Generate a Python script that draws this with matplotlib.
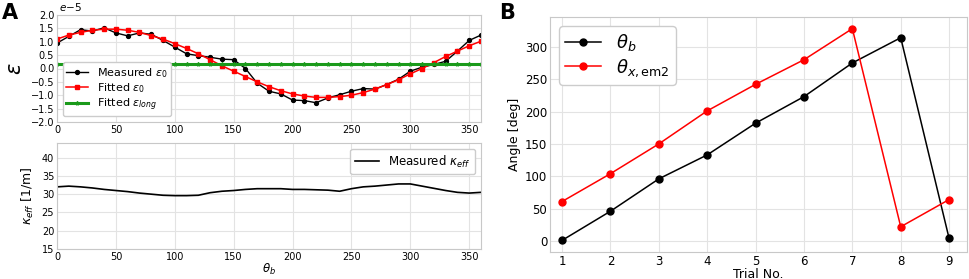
import numpy as np
import matplotlib.pyplot as plt

# dados do painel A (theta de 0 a 360, passo 10)
theta = np.arange(0, 361, 10)
eps_medido = [0.95, 1.2, 1.45, 1.4, 1.52, 1.33, 1.22, 1.33, 1.28, 1.05, 0.8, 0.55, 0.48, 0.42,
              0.35, 0.33, 0.0, -0.55, -0.85, -0.95, -1.18, -1.2, -1.28, -1.1, -0.98, -0.85,
              -0.75, -0.77, -0.6, -0.4, -0.1, 0.05, 0.15, 0.27, 0.65, 1.05, 1.25]
eps_ajustado = [1.1, 1.25, 1.35, 1.43, 1.47, 1.47, 1.43, 1.35, 1.23, 1.1, 0.93, 0.75, 0.55, 0.33,
                0.1, -0.1, -0.3, -0.5, -0.68, -0.83, -0.95, -1.03, -1.08, -1.08, -1.05, -1.0,
                -0.9, -0.77, -0.6, -0.42, -0.2, 0.0, 0.22, 0.45, 0.65, 0.85, 1.02]
eps_long = [0.18] * len(theta)
kappa = [32.0, 32.2, 32.0, 31.7, 31.3, 31.0, 30.7, 30.3, 30.0, 29.7, 29.6, 29.6, 29.7, 30.4,
         30.8, 31.0, 31.3, 31.5, 31.5, 31.5, 31.3, 31.3, 31.2, 31.1, 30.8, 31.5, 32.0, 32.2,
         32.5, 32.8, 32.8, 32.2, 31.6, 31.0, 30.5, 30.3, 30.5]

# dados do painel B
trial = [1, 2, 3, 4, 5, 6, 7, 8, 9]
theta_b = [1, 46, 96, 133, 182, 223, 275, 314, 4]
theta_x = [61, 104, 150, 201, 242, 280, 328, 22, 64]

fig = plt.figure(figsize=(9.69, 2.79), dpi=100)
axA1 = fig.add_axes([57/969, 1-122/279, 424/969, 107/279])
axA2 = fig.add_axes([57/969, 1-249/279, 424/969, 106/279])
axB = fig.add_axes([550/969, 1-252/279, 417/969, 235/279])

def estilo(ax, fs):
    ax.grid(True, color='#e3e3e3', linewidth=0.8)
    ax.set_axisbelow(True)
    for s in ax.spines.values():
        s.set_color('#c8c8c8')
    ax.tick_params(length=0, labelsize=fs, pad=2)

# painel A topo
axA1.plot(theta, eps_medido, '-o', color='black', ms=2.8, lw=1, label=r'Measured $\epsilon_0$')
axA1.plot(theta, eps_ajustado, '-s', color='red', ms=2.8, lw=1.1, label=r'Fitted $\epsilon_0$')
axA1.plot(theta, eps_long, '-*', color='#1a9a1a', ms=2.8, lw=2.2, label=r'Fitted $\epsilon_{long}$')
axA1.set_xlim(0, 360)
axA1.set_ylim(-2, 2)
axA1.set_yticks(np.arange(-2, 2.01, 0.5))
axA1.set_xticks(range(0, 351, 50))
axA1.set_ylabel(r'$\epsilon$', fontsize=15, labelpad=4)
axA1.text(0.005, 1.02, r'$e\!-\!5$', transform=axA1.transAxes, fontsize=7.5, va='bottom')
axA1.legend(loc='lower left', fontsize=8, framealpha=1, edgecolor='#cccccc',
            handlelength=2.0, labelspacing=0.15, borderpad=0.3)
estilo(axA1, 7)

# painel A baixo
axA2.plot(theta, kappa, color='black', lw=1.2, label=r'Measured $\kappa_{eff}$')
axA2.set_xlim(0, 360)
axA2.set_ylim(15, 44)
axA2.set_yticks(range(15, 41, 5))
axA2.set_xticks(range(0, 351, 50))
axA2.set_ylabel(r'$\kappa_{eff}$ [1/m]', fontsize=9, labelpad=4)
axA2.set_xlabel(r'$\theta_b$', fontsize=8.5, labelpad=0)
axA2.legend(loc='upper right', fontsize=8.5, framealpha=1, edgecolor='#cccccc', handlelength=2.0)
estilo(axA2, 7)

# painel B
axB.plot(trial, theta_b, '-o', color='black', ms=5, lw=1.1, label=r'$\theta_b$')
axB.plot(trial, theta_x, '-o', color='red', ms=5, lw=1.1, label=r'$\theta_{x,\mathrm{em2}}$')
axB.set_xlim(0.75, 9.37)
axB.set_ylim(-17, 346)
axB.set_xticks(trial)
axB.set_yticks(range(0, 301, 50))
axB.set_xlabel('Trial No.', fontsize=9, labelpad=0)
axB.set_ylabel('Angle [deg]', fontsize=9, labelpad=3)
axB.legend(loc='upper left', fontsize=13, framealpha=1, edgecolor='#cccccc',
           handlelength=2.0, labelspacing=0.2, borderpad=0.35)
estilo(axB, 8.5)

fig.text(2/969, 1-3/279, 'A', fontsize=15, fontweight='bold', va='top')
fig.text(499/969, 1-3/279, 'B', fontsize=15, fontweight='bold', va='top')

fig.savefig('out.png', dpi=100)
